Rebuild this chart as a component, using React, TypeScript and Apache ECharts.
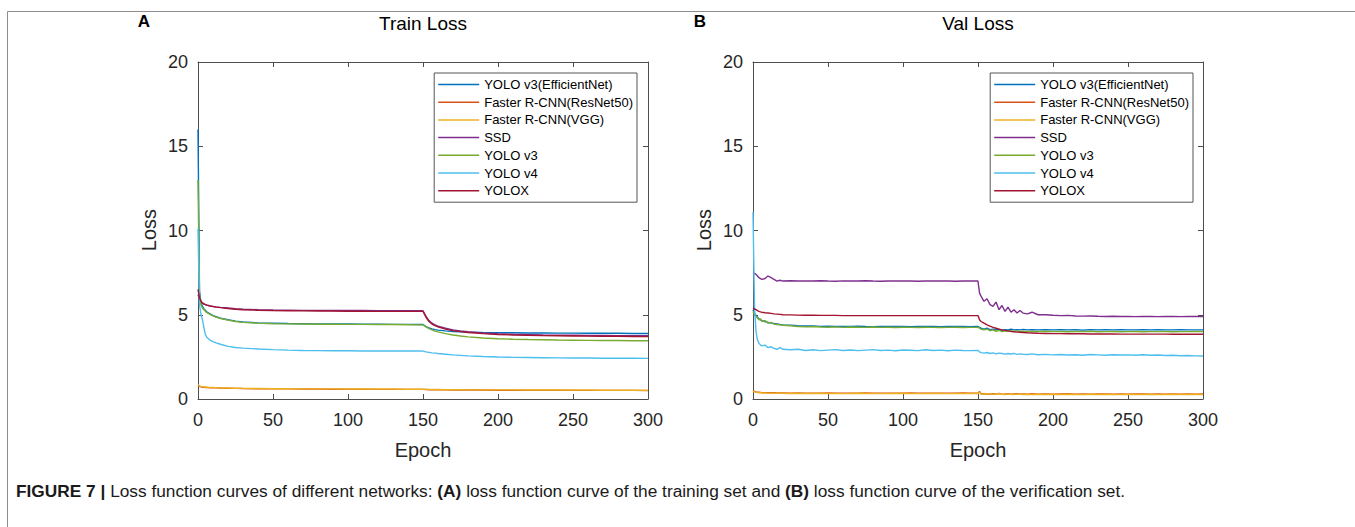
import React, { useEffect, useRef } from "react";
import * as echarts from "echarts";

const seriesNames = [
  "YOLO v3(EfficientNet)",
  "Faster R-CNN(ResNet50)",
  "Faster R-CNN(VGG)",
  "SSD",
  "YOLO v3",
  "YOLO v4",
  "YOLOX",
];
const seriesColors = ["#0072BD", "#D95319", "#EDB120", "#7E2F8E", "#77AC30", "#4DBEEE", "#A2142F"];

const xTicks = [0, 50, 100, 150, 200, 250, 300];
const yTicks = [0, 5, 10, 15, 20];

// ---------- Train loss (panel A) ----------
const trainEpochs = [0, 1, 2, 3, 4, 5, 6, 8, 10, 12, 15, 20, 25, 30, 40, 50, 60, 70, 80, 90, 100, 110, 120, 130, 140, 148, 150, 152, 154, 156, 158, 160, 165, 170, 175, 180, 190, 200, 210, 220, 230, 240, 250, 260, 270, 280, 290, 300];
const trainEfficient = [16.0, 6.4, 5.7, 5.5, 5.35, 5.25, 5.15, 5.05, 4.95, 4.88, 4.8, 4.7, 4.62, 4.57, 4.52, 4.5, 4.48, 4.47, 4.46, 4.45, 4.45, 4.44, 4.44, 4.43, 4.43, 4.42, 4.42, 4.3, 4.22, 4.16, 4.12, 4.09, 4.04, 4.01, 3.99, 3.97, 3.95, 3.94, 3.93, 3.92, 3.92, 3.91, 3.91, 3.9, 3.9, 3.9, 3.89, 3.89];
const trainResNet = [0.8, 0.75, 0.72, 0.7, 0.69, 0.68, 0.68, 0.67, 0.66, 0.66, 0.65, 0.64, 0.63, 0.62, 0.61, 0.6, 0.6, 0.59, 0.59, 0.58, 0.58, 0.58, 0.57, 0.57, 0.57, 0.57, 0.57, 0.56, 0.55, 0.55, 0.54, 0.54, 0.54, 0.53, 0.53, 0.53, 0.53, 0.52, 0.52, 0.52, 0.52, 0.52, 0.51, 0.51, 0.51, 0.51, 0.51, 0.5];
const trainVGG = [0.85, 0.78, 0.75, 0.73, 0.72, 0.71, 0.7, 0.69, 0.68, 0.67, 0.66, 0.65, 0.64, 0.63, 0.62, 0.61, 0.61, 0.6, 0.6, 0.6, 0.59, 0.59, 0.59, 0.59, 0.58, 0.58, 0.58, 0.57, 0.57, 0.56, 0.56, 0.56, 0.55, 0.55, 0.55, 0.54, 0.54, 0.54, 0.54, 0.53, 0.53, 0.53, 0.53, 0.53, 0.52, 0.52, 0.52, 0.52];
const trainSSD = [6.2, 5.9, 5.75, 5.68, 5.63, 5.6, 5.57, 5.53, 5.5, 5.47, 5.44, 5.4, 5.36, 5.33, 5.3, 5.28, 5.27, 5.26, 5.26, 5.25, 5.25, 5.25, 5.24, 5.24, 5.24, 5.24, 5.24, 4.9, 4.65, 4.5, 4.4, 4.32, 4.2, 4.1, 4.04, 3.99, 3.92, 3.87, 3.84, 3.82, 3.8, 3.79, 3.78, 3.77, 3.77, 3.76, 3.76, 3.75];
const trainYolov3 = [13.0, 6.2, 5.6, 5.4, 5.3, 5.2, 5.12, 5.02, 4.93, 4.86, 4.78, 4.68, 4.6, 4.55, 4.5, 4.47, 4.46, 4.45, 4.44, 4.44, 4.43, 4.43, 4.42, 4.42, 4.41, 4.4, 4.4, 4.28, 4.18, 4.1, 4.03, 3.98, 3.88, 3.8, 3.74, 3.69, 3.62, 3.58, 3.55, 3.53, 3.52, 3.5, 3.49, 3.48, 3.47, 3.47, 3.46, 3.46];
const trainYolov4 = [10.1, 5.6, 5.0, 4.7, 4.2, 3.8, 3.65, 3.5, 3.4, 3.33, 3.25, 3.12, 3.06, 3.02, 2.97, 2.93, 2.9, 2.88, 2.87, 2.86, 2.86, 2.85, 2.85, 2.85, 2.85, 2.85, 2.84, 2.8, 2.77, 2.74, 2.72, 2.7, 2.66, 2.62, 2.59, 2.56, 2.52, 2.49, 2.47, 2.46, 2.45, 2.44, 2.43, 2.43, 2.42, 2.42, 2.42, 2.41];
const trainYolox = [6.5, 6.0, 5.8, 5.7, 5.65, 5.6, 5.57, 5.52, 5.48, 5.45, 5.42, 5.37, 5.33, 5.3, 5.27, 5.25, 5.24, 5.23, 5.22, 5.22, 5.21, 5.21, 5.2, 5.2, 5.2, 5.2, 5.2, 4.85, 4.6, 4.45, 4.35, 4.28, 4.15, 4.06, 4.0, 3.95, 3.88, 3.83, 3.8, 3.78, 3.76, 3.75, 3.74, 3.73, 3.72, 3.72, 3.71, 3.7];

// ---------- Val loss (panel B) ----------
const valEpochs = [0, 1, 2, 3, 4, 5, 6, 8, 10, 12, 14, 16, 18, 20, 25, 30, 35, 40, 45, 50, 55, 60, 65, 70, 75, 80, 85, 90, 95, 100, 105, 110, 115, 120, 125, 130, 135, 140, 145, 149, 150, 151, 152, 154, 156, 158, 160, 162, 164, 166, 168, 170, 172, 174, 176, 178, 180, 183, 186, 190, 195, 200, 205, 210, 215, 220, 225, 230, 235, 240, 245, 250, 255, 260, 265, 270, 275, 280, 285, 290, 295, 300];
const valEfficient = [5.3, 5.1, 4.95, 4.85, 4.75, 4.7, 4.65, 4.6, 4.55, 4.5, 4.48, 4.45, 4.42, 4.4, 4.38, 4.35, 4.33, 4.34, 4.31, 4.32, 4.3, 4.31, 4.3, 4.32, 4.3, 4.29, 4.31, 4.3, 4.3, 4.31, 4.29, 4.3, 4.3, 4.31, 4.29, 4.3, 4.31, 4.3, 4.29, 4.3, 4.3, 4.25, 4.2, 4.15, 4.2, 4.12, 4.15, 4.1, 4.13, 4.08, 4.12, 4.1, 4.14, 4.1, 4.12, 4.1, 4.13, 4.1, 4.12, 4.1, 4.11, 4.1, 4.12, 4.1, 4.11, 4.09, 4.11, 4.1, 4.12, 4.1, 4.11, 4.1, 4.1, 4.12, 4.1, 4.11, 4.1, 4.1, 4.11, 4.1, 4.1, 4.1];
const valResNet = [0.5, 0.45, 0.42, 0.4, 0.4, 0.39, 0.38, 0.38, 0.37, 0.37, 0.37, 0.36, 0.36, 0.36, 0.35, 0.36, 0.35, 0.34, 0.35, 0.36, 0.35, 0.34, 0.35, 0.35, 0.36, 0.34, 0.35, 0.35, 0.34, 0.35, 0.36, 0.35, 0.34, 0.35, 0.35, 0.34, 0.35, 0.36, 0.35, 0.35, 0.35, 0.45, 0.3, 0.32, 0.28, 0.3, 0.31, 0.28, 0.33, 0.29, 0.3, 0.32, 0.28, 0.3, 0.31, 0.29, 0.3, 0.29, 0.31, 0.29, 0.3, 0.29, 0.3, 0.31, 0.29, 0.3, 0.29, 0.3, 0.3, 0.29, 0.3, 0.29, 0.3, 0.3, 0.29, 0.3, 0.29, 0.3, 0.29, 0.3, 0.29, 0.3];
const valVGG = [0.45, 0.42, 0.4, 0.38, 0.37, 0.37, 0.36, 0.36, 0.35, 0.35, 0.35, 0.34, 0.34, 0.34, 0.33, 0.34, 0.33, 0.33, 0.34, 0.33, 0.33, 0.32, 0.33, 0.34, 0.33, 0.33, 0.32, 0.33, 0.33, 0.34, 0.33, 0.32, 0.33, 0.33, 0.33, 0.32, 0.33, 0.33, 0.33, 0.33, 0.33, 0.4, 0.3, 0.28, 0.3, 0.32, 0.27, 0.29, 0.31, 0.28, 0.27, 0.3, 0.28, 0.27, 0.29, 0.28, 0.27, 0.28, 0.27, 0.28, 0.27, 0.28, 0.27, 0.28, 0.27, 0.27, 0.28, 0.27, 0.28, 0.27, 0.27, 0.28, 0.27, 0.27, 0.28, 0.27, 0.27, 0.28, 0.27, 0.27, 0.28, 0.27];
const valSSD = [7.5, 7.45, 7.4, 7.3, 7.2, 7.15, 7.1, 7.15, 7.3, 7.2, 7.1, 7.0, 7.05, 7.0, 7.02, 7.0, 7.01, 7.0, 7.02, 7.0, 6.99, 7.01, 7.0, 7.0, 7.02, 7.0, 6.99, 7.0, 7.01, 7.0, 7.0, 6.99, 7.0, 7.01, 7.0, 7.0, 6.99, 7.0, 7.0, 7.0, 7.0, 6.3, 6.1, 5.8, 5.95, 5.6, 5.5, 5.75, 5.3, 5.55, 5.2, 5.45, 5.15, 5.3, 5.1, 5.25, 5.1, 5.05, 5.15, 5.0, 5.0, 4.97, 4.95, 4.96, 4.93, 4.92, 4.93, 4.91, 4.9, 4.91, 4.9, 4.9, 4.89, 4.9, 4.9, 4.89, 4.9, 4.9, 4.89, 4.9, 4.9, 4.9];
const valYolov3 = [5.2, 5.0, 4.9, 4.8, 4.7, 4.75, 4.6, 4.65, 4.5, 4.55, 4.45, 4.42, 4.4, 4.38, 4.35, 4.3, 4.28, 4.3, 4.27, 4.26, 4.28, 4.25, 4.27, 4.26, 4.25, 4.27, 4.25, 4.26, 4.24, 4.26, 4.25, 4.24, 4.26, 4.25, 4.24, 4.25, 4.26, 4.24, 4.25, 4.25, 4.25, 4.2, 4.15, 4.1, 4.15, 4.05, 4.1, 4.02, 4.07, 4.0, 4.05, 4.02, 4.06, 4.01, 4.04, 4.0, 4.03, 4.0, 4.03, 4.0, 4.02, 4.0, 4.01, 3.99, 4.01, 4.0, 4.02, 3.99, 4.0, 4.01, 3.99, 4.0, 4.01, 3.99, 4.0, 4.0, 4.01, 3.99, 4.0, 4.0, 4.01, 4.0];
const valYolov4 = [11.1, 5.5, 4.0, 3.5, 3.3, 3.2, 3.15, 3.2, 3.05, 3.1, 3.0, 2.95, 3.05, 2.95, 2.92, 2.95, 2.88, 2.92, 2.87, 2.9, 2.93, 2.88, 2.91, 2.87, 2.9, 2.93, 2.88, 2.9, 2.86, 2.91, 2.89, 2.87, 2.92, 2.88, 2.9, 2.86, 2.9, 2.88, 2.87, 2.88, 2.88, 2.8, 2.75, 2.72, 2.76, 2.7, 2.74, 2.68, 2.72, 2.7, 2.66, 2.7, 2.67, 2.71, 2.65, 2.68, 2.66, 2.64, 2.68, 2.63, 2.65, 2.62, 2.64, 2.61, 2.63, 2.6, 2.64, 2.62, 2.6, 2.63, 2.61, 2.62, 2.6, 2.63, 2.6, 2.61, 2.58, 2.6, 2.57, 2.58, 2.56, 2.55];
const valYolox = [5.4, 5.35, 5.3, 5.25, 5.2, 5.17, 5.15, 5.12, 5.1, 5.08, 5.05, 5.04, 5.02, 5.0, 4.99, 4.98, 4.97, 4.97, 4.96, 4.96, 4.96, 4.95, 4.95, 4.95, 4.95, 4.95, 4.95, 4.95, 4.95, 4.95, 4.95, 4.95, 4.95, 4.95, 4.95, 4.95, 4.95, 4.95, 4.95, 4.95, 4.95, 4.7, 4.6, 4.5, 4.4, 4.32, 4.25, 4.2, 4.15, 4.1, 4.07, 4.04, 4.01, 3.99, 3.97, 3.96, 3.95, 3.93, 3.92, 3.9, 3.89, 3.88, 3.88, 3.87, 3.87, 3.87, 3.86, 3.86, 3.86, 3.86, 3.85, 3.85, 3.85, 3.85, 3.85, 3.85, 3.85, 3.84, 3.84, 3.84, 3.84, 3.84];

const trainValues = [trainEfficient, trainResNet, trainVGG, trainSSD, trainYolov3, trainYolov4, trainYolox];
const valValues = [valEfficient, valResNet, valVGG, valSSD, valYolov3, valYolov4, valYolox];

const FONT = "'Liberation Sans', Arial, Helvetica, sans-serif";
const AXIS_COLOR = "#4d4d4d";
const TEXT_COLOR = "#262626";

const GRID_TOP = 62;
const GRID_H = 337;
const GRID_W = 450;
const GRID_LEFTS = [198, 753];

function makeAxes(gridIndex: number) {
  const common = {
    gridIndex,
    type: "value" as const,
    axisLine: { show: true, onZero: false, lineStyle: { color: AXIS_COLOR, width: 1 } },
    axisTick: { show: true, inside: true, length: 5, lineStyle: { color: AXIS_COLOR } },
    splitLine: { show: false },
  };
  const xa = [
    {
      ...common,
      position: "bottom",
      min: xTicks[0],
      max: xTicks[xTicks.length - 1],
      interval: xTicks[1] - xTicks[0],
      axisLabel: { show: true, fontSize: 18, color: TEXT_COLOR, fontFamily: FONT, margin: 12 },
    },
    {
      ...common,
      position: "top",
      min: xTicks[0],
      max: xTicks[xTicks.length - 1],
      interval: xTicks[1] - xTicks[0],
      axisLabel: { show: false },
    },
  ];
  const ya = [
    {
      ...common,
      position: "left",
      min: yTicks[0],
      max: yTicks[yTicks.length - 1],
      interval: yTicks[1] - yTicks[0],
      axisLabel: { show: true, fontSize: 18, color: TEXT_COLOR, fontFamily: FONT, margin: 10 },
    },
    {
      ...common,
      position: "right",
      min: yTicks[0],
      max: yTicks[yTicks.length - 1],
      interval: yTicks[1] - yTicks[0],
      axisLabel: { show: false },
    },
  ];
  return { xa, ya };
}

export default function App() {
  const ref = useRef<HTMLDivElement>(null);
  useEffect(() => {
    document.body.style.margin = "0";
    if (!ref.current) return;
    const chart = echarts.init(ref.current, undefined, { renderer: "svg" });

    const a = makeAxes(0);
    const b = makeAxes(1);

    const series: any[] = [];
    const panels = [
      { epochs: trainEpochs, values: trainValues, axisBase: 0 },
      { epochs: valEpochs, values: valValues, axisBase: 2 },
    ];
    panels.forEach((p) => {
      seriesNames.forEach((name, k) => {
        series.push({
          type: "line",
          name,
          xAxisIndex: p.axisBase,
          yAxisIndex: p.axisBase,
          data: p.epochs.map((e, i) => [e, p.values[k][i]]),
          showSymbol: false,
          symbol: "none",
          lineStyle: { width: 1.4, color: seriesColors[k] },
          itemStyle: { color: seriesColors[k] },
          silent: true,
        });
      });
    });

    const legendCommon = {
      orient: "vertical" as const,
      top: 73,
      data: seriesNames,
      icon: "rect",
      itemWidth: 41,
      itemHeight: 1.5,
      itemGap: 2.7,
      padding: [4, 4, 4, 4],
      selectedMode: false,
      backgroundColor: "#ffffff",
      borderColor: "#555555",
      borderWidth: 1,
      textStyle: { fontSize: 13, color: "#000", fontFamily: FONT, lineHeight: 15, padding: [0, 0, 0, 0] },
    };

    const CAPTION_FONT = "'Liberation Sans', Arial, sans-serif";
    const texts: any[] = [
      { type: "rect", shape: { x: 7.5, y: 11.5, width: 1360, height: 600 }, style: { fill: "none", stroke: "#8c8c8c", lineWidth: 1 }, silent: true },
      { type: "text", x: 144, y: 21, style: { text: "A", fontSize: 17, fontWeight: "bold", fill: "#000", fontFamily: FONT, align: "center", verticalAlign: "middle" } },
      { type: "text", x: 700, y: 21, style: { text: "B", fontSize: 17, fontWeight: "bold", fill: "#000", fontFamily: FONT, align: "center", verticalAlign: "middle" } },
      { type: "text", x: GRID_LEFTS[0] + GRID_W / 2, y: 23, style: { text: "Train Loss", fontSize: 19, fill: "#000", fontFamily: FONT, align: "center", verticalAlign: "middle" } },
      { type: "text", x: GRID_LEFTS[1] + GRID_W / 2, y: 23, style: { text: "Val Loss", fontSize: 19, fill: "#000", fontFamily: FONT, align: "center", verticalAlign: "middle" } },
      { type: "text", x: GRID_LEFTS[0] + GRID_W / 2, y: 450, style: { text: "Epoch", fontSize: 20, fill: TEXT_COLOR, fontFamily: FONT, align: "center", verticalAlign: "middle" } },
      { type: "text", x: GRID_LEFTS[1] + GRID_W / 2, y: 450, style: { text: "Epoch", fontSize: 20, fill: TEXT_COLOR, fontFamily: FONT, align: "center", verticalAlign: "middle" } },
      { type: "text", x: 149, y: 230, rotation: Math.PI / 2, style: { text: "Loss", fontSize: 20, fill: TEXT_COLOR, fontFamily: FONT, align: "center", verticalAlign: "middle" } },
      { type: "text", x: 704, y: 230, rotation: Math.PI / 2, style: { text: "Loss", fontSize: 20, fill: TEXT_COLOR, fontFamily: FONT, align: "center", verticalAlign: "middle" } },
      {
        type: "text",
        x: 16,
        y: 491,
        style: {
          text: "{b|FIGURE 7 |} Loss function curves of different networks: {b|(A)} loss function curve of the training set and {b|(B)} loss function curve of the verification set.",
          fontSize: 17.3,
          fill: "#1a1a1a",
          fontFamily: CAPTION_FONT,
          align: "left",
          verticalAlign: "middle",
          rich: { b: { fontWeight: "bold", fontSize: 17.3, fill: "#1a1a1a", fontFamily: CAPTION_FONT } },
        },
      },
    ];

    chart.setOption({
      animation: false,
      backgroundColor: "#ffffff",
      grid: GRID_LEFTS.map((l) => ({ left: l, top: GRID_TOP, width: GRID_W, height: GRID_H, containLabel: false })),
      xAxis: [...a.xa, ...b.xa],
      yAxis: [...a.ya, ...b.ya],
      legend: [
        { ...legendCommon, right: 1355 - 637 },
        { ...legendCommon, right: 1355 - 1193 },
      ],
      series,
      graphic: texts,
    });
    return () => chart.dispose();
  }, []);
  return <div ref={ref} style={{ width: 1355, height: 527 }} />;
}
